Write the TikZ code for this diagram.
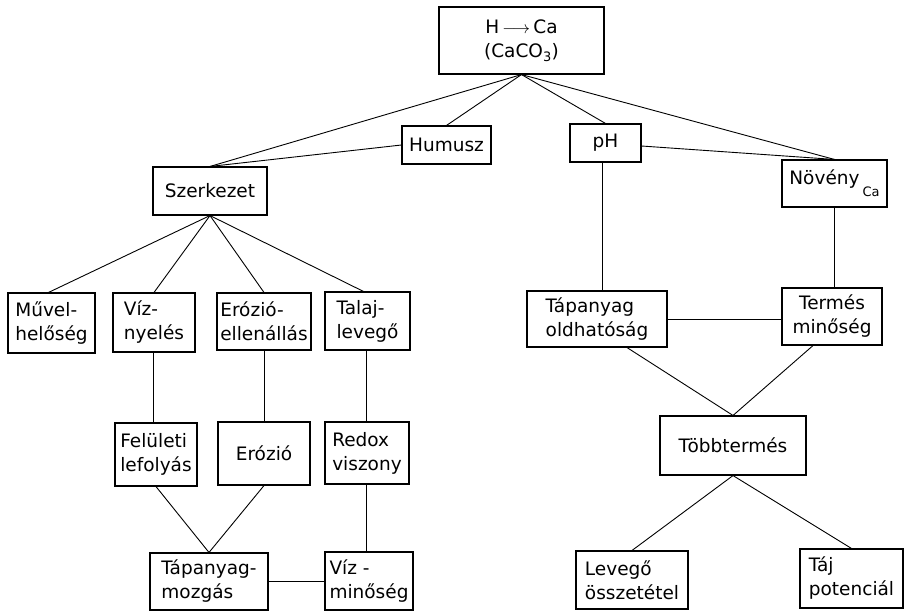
\documentclass[tikz,border=0pt]{standalone}
\usepackage{fontspec}
\setmainfont{DejaVu Sans}
\begin{document}
\begin{tikzpicture}[x=1pt,y=-1pt,
  box/.style={draw,line width=1.1pt,inner sep=0pt,align=left,
    font=\fontsize{18.5}{24}\selectfont},
  link/.style={line width=0.9pt}]
\useasboundingbox (0,0) rectangle (904,611);
% top level
\node[box,align=center,minimum width=165pt,minimum height=67pt] (top) at (521.5,40.5)
  {H\,$\longrightarrow$\,Ca\\(CaCO\textsubscript{3})};
\node[box,minimum width=89pt,minimum height=38pt] (humusz) at (446.5,145) {Humusz};
\node[box,minimum width=114pt,minimum height=48pt] (szerk) at (210,191) {Szerkezet};
\node[box,minimum width=71pt,minimum height=38pt] (ph) at (605.5,143) {pH};
\node[box,minimum width=105pt,minimum height=47pt] (noveny) at (834.5,183.5)
  {Növény\hspace{3pt}\raisebox{-12pt}{\fontsize{13}{13}\selectfont Ca}};
% left third row
\node[box,minimum width=87pt,minimum height=60pt] (muvel) at (51.5,323) {Művel-\\helőség};
\node[box,minimum width=82pt,minimum height=59pt] (viz) at (154,322.5) {Víz-\\nyelés};
\node[box,minimum width=94pt,minimum height=57pt] (eroz) at (264,321.5) {Erózió-\\ellenállás};
\node[box,minimum width=85pt,minimum height=58pt] (talaj) at (367.5,321) {Talaj-\\levegő};
% left fourth row
\node[box,minimum width=82pt,minimum height=63pt] (fel) at (156,454.5) {Felületi\\lefolyás};
\node[box,minimum width=92pt,minimum height=63pt] (erozio) at (264,453.5) {Erózió};
\node[box,minimum width=84pt,minimum height=62pt] (redox) at (367,453) {Redox\\viszony};
% left bottom row
\node[box,minimum width=118pt,minimum height=57pt] (tapm) at (209,581.5) {Tápanyag-\\mozgás};
\node[box,minimum width=88pt,minimum height=58pt] (vizm) at (369,581) {Víz -\\minőség};
% right side
\node[box,minimum width=140pt,minimum height=56pt] (tapo) at (597,319) {Tápanyag\\oldhatóság};
\node[box,align=center,minimum width=100pt,minimum height=57pt] (term) at (832,316.5) {Termés\\minőség};
\node[box,minimum width=146pt,minimum height=59pt] (tobb) at (733,445.5) {Többtermés};
\node[box,minimum width=112pt,minimum height=58pt] (lev) at (632,580) {Levegő\\összetétel};
\node[box,minimum width=103pt,minimum height=59pt] (taj) at (851.5,578.5) {Táj\\potenciál};
% connectors from the top
\draw[link] (top.south) -- (szerk.north);
\draw[link] (top.south) -- (humusz.north);
\draw[link] (top.south) -- (ph.north);
\draw[link] (top.south) -- (noveny.north);
\draw[link] (humusz.west) -- (szerk.north);
\draw[link] ([yshift=-3pt]ph.east) -- (noveny.north);
% Szerkezet fan
\draw[link] (szerk.south) -- ([xshift=-3pt]muvel.north);
\draw[link] (szerk.south) -- (viz.north);
\draw[link] (szerk.south) -- (eroz.north);
\draw[link] (szerk.south) -- ([xshift=-4pt]talaj.north);
% verticals
\draw[link] ([xshift=-1pt]viz.south) -- ([xshift=-1pt]viz.south |- fel.north);
\draw[link] (eroz.south) -- (eroz.south |- erozio.north);
\draw[link] ([xshift=-1pt]talaj.south) -- ([xshift=-1pt]talaj.south |- redox.north);
\draw[link] (fel.south) -- (tapm.north);
\draw[link] (erozio.south) -- (tapm.north);
\draw[link] ([xshift=-1pt]redox.south) -- ([xshift=-1pt]redox.south |- vizm.north);
\draw[link] (tapm.east) -- (tapm.east -| vizm.west);
% right side
\draw[link] ([xshift=-3pt]ph.south) -- ([xshift=-3pt]ph.south |- tapo.north);
\draw[link] (noveny.south) -- (noveny.south |- term.north);
\draw[link] (tapo.east) -- (tapo.east -| term.west);
\draw[link] ([xshift=30pt]tapo.south) -- (tobb.north);
\draw[link] ([xshift=-19pt]term.south) -- (tobb.north);
\draw[link] (tobb.south) -- (lev.north);
\draw[link] (tobb.south) -- (taj.north);
\end{tikzpicture}
\end{document}
